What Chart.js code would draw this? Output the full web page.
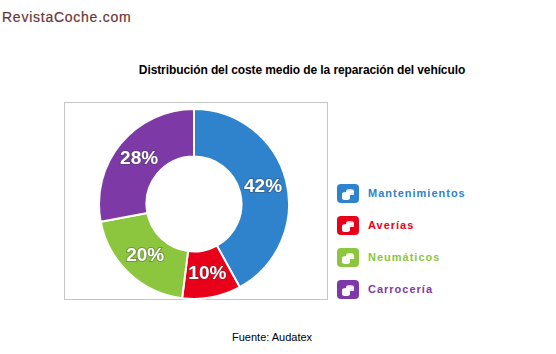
<!DOCTYPE html>
<html>
<head>
<meta charset="UTF-8">
<title>Distribución del coste medio</title>
<script src="https://cdn.jsdelivr.net/npm/chart.js@4"></script>
<style>
  body { margin: 0; width: 556px; height: 354px; background: #fff; position: relative; overflow: hidden; font-family: "Liberation Sans", Arial, sans-serif; }
  #site { position: absolute; left: 2px; top: 9px; font-size: 14px; color: #6a3535; letter-spacing: 0.75px; -webkit-text-stroke: 0.2px #6a3535; }
  #titulo { position: absolute; left: 0; width: 604px; top: 63px; text-align: center; font-size: 12px; font-weight: bold; color: #000; letter-spacing: -0.1px; }
  #caja { position: absolute; left: 64px; top: 102px; width: 262px; height: 196px; border: 1px solid #c6c6c6; }
  #holder { position: absolute; left: 98px; top: 108px; width: 192px; height: 192px; }
  #leyenda { position: absolute; left: 337px; top: 184px; }
  .item { position: relative; height: 32px; }
  .item svg { position: absolute; left: 0; top: 0; }
  .item span { position: absolute; left: 31px; top: 3px; font-size: 11px; font-weight: bold; letter-spacing: 1px; white-space: nowrap; }
  #fuente { position: absolute; left: 232px; top: 331px; font-size: 11px; color: #000; }
</style>
</head>
<body>
<div id="site">RevistaCoche.com</div>
<div id="titulo">Distribución del coste medio de la reparación del vehículo</div>
<div id="caja"></div>
<div id="holder"><canvas id="chart-area"></canvas></div>
<div id="leyenda"></div>
<div id="fuente">Fuente: Audatex</div>

<script>
  var categorias = ['Mantenimientos', 'Averías', 'Neumáticos', 'Carrocería'];
  var porcentajes = [42, 10, 20, 28];
  var colores = ['#2f82cc', '#e8001b', '#8cc63f', '#7d3aa6'];

  // leyenda con iconos
  var leyenda = document.getElementById('leyenda');
  categorias.forEach(function (cat, i) {
    var d = document.createElement('div');
    d.className = 'item';
    d.innerHTML =
      '<svg width="22" height="19" viewBox="0 0 22 19">' +
      '<rect x="0" y="0" width="22" height="19" rx="4" fill="' + colores[i] + '"/>' +
      '<ellipse cx="13" cy="7" rx="4" ry="2" fill="#fff" opacity="0.85"/>' +
      '<rect x="9" y="7" width="8" height="4" fill="#fff" opacity="0.85"/>' +
      '<ellipse cx="9" cy="10" rx="4" ry="2" fill="#fff"/>' +
      '<rect x="5" y="10" width="8" height="4" fill="#fff"/>' +
      '<ellipse cx="9" cy="14" rx="4" ry="2" fill="#fff"/>' +
      '</svg><span style="color:' + colores[i] + '">' + cat + '</span>';
    leyenda.appendChild(d);
  });

  // porcentajes sobre cada porción
  var etiquetas = {
    id: 'etiquetas',
    afterDatasetsDraw: function (chart) {
      var ctx = chart.ctx;
      var meta = chart.getDatasetMeta(0);
      ctx.save();
      ctx.font = 'bold 19px "Liberation Sans", Arial, sans-serif';
      ctx.textAlign = 'center';
      ctx.textBaseline = 'middle';
      meta.data.forEach(function (arc, i) {
        var p = arc.getProps(['x', 'y', 'startAngle', 'endAngle', 'innerRadius', 'outerRadius'], true);
        var a = (p.startAngle + p.endAngle) / 2;
        var r = (p.innerRadius + p.outerRadius) / 2;
        var x = p.x + Math.cos(a) * r;
        var y = p.y + Math.sin(a) * r;
        ctx.lineWidth = 2;
        ctx.strokeStyle = 'rgba(60,60,60,0.35)';
        ctx.strokeText(porcentajes[i] + '%', x, y);
        ctx.fillStyle = '#fff';
        ctx.fillText(porcentajes[i] + '%', x, y);
      });
      ctx.restore();
    }
  };

  var config = {
    type: 'doughnut',
    data: {
      labels: categorias,
      datasets: [{
        data: porcentajes,
        backgroundColor: colores,
        borderColor: '#fff',
        borderWidth: 2
      }]
    },
    options: {
      responsive: true,
      maintainAspectRatio: false,
      animation: false,
      cutout: '50%',
      plugins: {
        legend: { display: false },
        tooltip: { enabled: false }
      }
    },
    plugins: [etiquetas]
  };

  window.onload = function () {
    var ctx = document.getElementById('chart-area').getContext('2d');
    window.myPie = new Chart(ctx, config);
  };
</script>
</body>
</html>
